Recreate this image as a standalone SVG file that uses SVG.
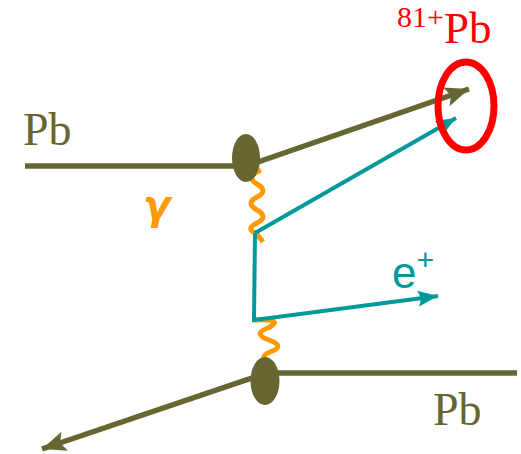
<svg xmlns="http://www.w3.org/2000/svg" width="521" height="454" viewBox="0 0 521 454">
<style>
.olive{stroke:#666633;stroke-width:5.5;fill:none}
.teal{stroke:#009999;stroke-width:4;fill:none}
.photon{stroke:#FF9900;stroke-width:5;fill:none}
.vtx{fill:#666633}
.serif{font-family:"Liberation Serif","Times New Roman",serif}
.sans{font-family:"Liberation Sans",Arial,sans-serif}
</style>
<defs>
<marker id="ao" markerUnits="userSpaceOnUse" markerWidth="26" markerHeight="22" refX="24" refY="11" orient="auto">
<path d="M0,1 L24,11 L0,21 L5,11 Z" fill="#666633"/>
</marker>
<marker id="at" markerUnits="userSpaceOnUse" markerWidth="22" markerHeight="18" refX="20" refY="9" orient="auto">
<path d="M0,1 L20,9 L0,17 L3,9 Z" fill="#009999"/>
</marker>
</defs>
<g id="connectors">
<line class="olive" x1="25" y1="166" x2="246" y2="166"/>
<line class="olive" x1="258" y1="162" x2="469" y2="89" marker-end="url(#ao)"/>
<line class="olive" x1="265" y1="373" x2="517" y2="373"/>
<line class="olive" x1="258" y1="376" x2="42" y2="449" marker-end="url(#ao)"/>
<path class="photon" d="M261,170 Q245,177 257,184 T257,197 T257,210 T257,223 T256,233 L263,242"/>
<path class="photon" d="M253,320 Q286,318 268,328 Q252,334 269,340 Q286,346 270,352 Q256,358 274,365"/>
<line class="teal" x1="255" y1="233" x2="456" y2="118" marker-end="url(#at)"/>
<path class="teal" d="M255,233 L254,320 L438,296" marker-end="url(#at)"/>
</g>
<g id="vertex-top"><ellipse class="vtx" cx="246" cy="158" rx="14" ry="24"/></g>
<g id="vertex-bottom"><ellipse class="vtx" cx="265" cy="381" rx="14.5" ry="24"/></g>
<g id="ion-ring"><ellipse cx="466" cy="106" rx="28" ry="44" fill="none" stroke="#FF0000" stroke-width="7"/></g>
<g id="labels">
<text class="serif" x="23" y="145" font-size="46" fill="#666633">Pb</text>
<text class="serif" x="433" y="425" font-size="46" fill="#666633">Pb</text>
<text class="serif" x="397" y="27" font-size="30" fill="#FF0000">81+<tspan font-size="45" dy="16">Pb</tspan></text>
<text x="143" y="219" font-family="'DejaVu Sans',sans-serif" font-size="40" font-style="italic" font-weight="bold" fill="#FF9900">γ</text>
<text class="sans" x="392" y="288" font-size="44" fill="#009999">e<tspan font-size="30" dy="-18">+</tspan></text>
</g>
</svg>
